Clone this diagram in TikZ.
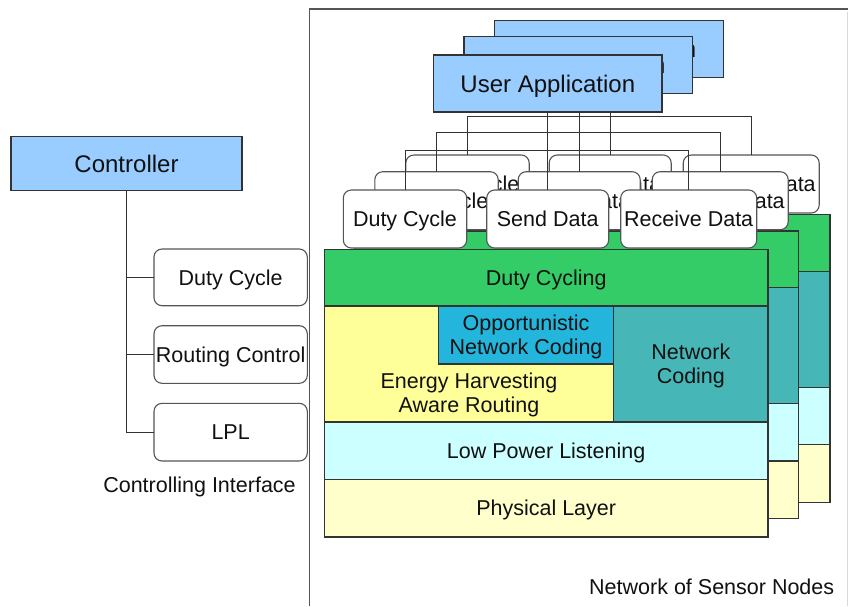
\documentclass[tikz,border=0pt]{standalone}
\usepackage{fontspec}
\setmainfont{Liberation Sans}
\usetikzlibrary{calc}

\definecolor{appblue}{HTML}{99CCFF}
\definecolor{dcgreen}{HTML}{33CC66}
\definecolor{ehyellow}{HTML}{FFFF99}
\definecolor{oncblue}{HTML}{23B5DC}
\definecolor{ncteal}{HTML}{46B6B6}
\definecolor{lplcyan}{HTML}{CCFFFF}
\definecolor{phyyellow}{HTML}{FFFFCC}
\definecolor{ln}{HTML}{333333}
\definecolor{soft}{HTML}{555555}
\definecolor{txt}{HTML}{111111}

\newcommand\fs{\fontsize{21.5}{24}\selectfont}
\newcommand\fl{\fontsize{24}{26}\selectfont}

\tikzset{
  layer/.style={draw=ln, line width=1.1pt, inner sep=0pt, outer sep=0pt,
    anchor=north west, align=center, font=\fs, text=txt},
  cmd/.style={draw=soft, line width=1.1pt, fill=white, rounded corners=8pt,
    inner sep=0pt, outer sep=0pt, anchor=north west, align=center,
    font=\fs, text=txt, text height=15.4pt, text depth=0pt},
  app/.style={draw=ln, line width=1.1pt, fill=appblue, inner sep=0pt,
    outer sep=0pt, anchor=north west, font=\fl, text=txt,
    text height=17.2pt, text depth=0pt},
  onecap/.style={text height=15.4pt, text depth=0pt},
  wire/.style={draw=ln, line width=1pt},
  label/.style={font=\fs, text=txt, inner sep=0pt},
}

% one protocol stack of a sensor node; #3=1 prints the layer names
\newcommand\layerstack[3]{%
  \begin{scope}[shift={#1}]
    \node[layer, onecap, fill=dcgreen, minimum width=443.7pt, minimum height=56.7pt]
      (dc#2) at (324.3,249.3) {\ifnum#3=1 Duty Cycling\fi};
    \node[layer, fill=ehyellow, minimum width=289.4pt, minimum height=116pt]
      (eh#2) at (324.3,306) {};
    \node[layer, fill=oncblue, minimum width=175.4pt, minimum height=58pt]
      (onc#2) at (438.3,306) {};
    \node[layer, fill=ncteal, minimum width=154.3pt, minimum height=116pt]
      (nc#2) at (613.7,306) {};
    \node[layer, onecap, fill=lplcyan, minimum width=443.7pt, minimum height=57.3pt]
      (lpl#2) at (324.3,422) {\ifnum#3=1 Low Power Listening\fi};
    \node[layer, onecap, fill=phyyellow, minimum width=443.7pt, minimum height=57.7pt]
      (phy#2) at (324.3,479.3) {\ifnum#3=1 Physical Layer\fi};
    \ifnum#3=1
      \node[label, align=center, yshift=-2pt] (oncl#2) at (onc#2.center) {Opportunistic\\Network Coding};
      \node[label, align=center, yshift=-2pt] (ncl#2) at (nc#2.center) {Network\\Coding};
      \node[label, align=center, yshift=-2pt] (ehl#2) at (469,393) {Energy Harvesting\\Aware Routing};
    \fi
  \end{scope}}

% the row of commands on top of a stack
\newcommand\cmdrow[2]{%
  \begin{scope}[shift={#1}]
    \node[cmd, minimum width=123.4pt, minimum height=58pt] (d#2) at (343.3,190) {Duty Cycle};
    \node[cmd, minimum width=122pt, minimum height=58pt] (s#2) at (486.7,190) {Send Data};
    \node[cmd, minimum width=136pt, minimum height=58pt] (r#2) at (620.7,190) {Receive Data};
  \end{scope}}

\begin{document}
\begin{tikzpicture}[x=1pt, y=-1pt]
  \useasboundingbox (0,0) rectangle (848,606);
  \fill[white] (0,0) rectangle (848,606);

  % frame of the sensor network
  \draw[soft, line width=1.4pt] (309.3,606) -- (309.3,9) -- (848,9);
  \draw[black!15, line width=0.8pt] (847,12) -- (847,606);

  % stacks, back to front
  \layerstack{(62,-34.5)}{2}{0}
  \cmdrow{(62.5,-35)}{2}
  \layerstack{(30.5,-18.3)}{1}{0}
  \cmdrow{(31.5,-18.3)}{1}
  \layerstack{(0,0)}{0}{1}
  \cmdrow{(0,0)}{0}

  % user applications
  \node[app, minimum width=229pt, minimum height=56.6pt] (ua2) at (494.3,20.7) {User Application};
  \node[app, minimum width=228.3pt, minimum height=57pt] (ua1) at (464,36.7) {User Application};
  \node[app, minimum width=228.3pt, minimum height=57pt] (ua0) at (433.7,55) {User Application};

  % application to command wiring
  \coordinate (h2) at (0,116.3);
  \coordinate (h1) at (0,132.7);
  \coordinate (h0) at (0,150.7);
  \draw[wire] (ua0.south -| s0.north) -- (s0.north);
  \draw[wire] (ua0.south -| s1.north) -- (s1.north);
  \draw[wire] (ua0.south -| s2.north) -- (s2.north);
  \draw[wire] (d2.north) -- (d2.north |- h2) -- (r2.north |- h2) -- (r2.north);
  \draw[wire] (d1.north) -- (d1.north |- h1) -- (r1.north |- h1) -- (r1.north);
  \draw[wire] (d0.north) -- (d0.north |- h0) -- (r0.north |- h0) -- (r0.north);

  % controller side
  \node[app, minimum width=231pt, minimum height=54pt] (ctl) at (11,136.7) {Controller};
  \node[cmd, minimum width=153.3pt, minimum height=56.7pt] (cdc) at (154,249) {Duty Cycle};
  \node[cmd, minimum width=153.3pt, minimum height=57.6pt] (crc) at (154,325.7) {Routing Control};
  \node[cmd, minimum width=153.3pt, minimum height=57.7pt] (clpl) at (154,403.3) {LPL};
  \draw[wire] (ctl.south) -- (ctl.south |- clpl.west) -- (clpl.west);
  \draw[wire] (ctl.south |- cdc.west) -- (cdc.west);
  \draw[wire] (ctl.south |- crc.west) -- (crc.west);

  \node[label, onecap] (ci) at (199.5,485) {Controlling Interface};
  \node[label, onecap] (nsn) at (711.7,587) {Network of Sensor Nodes};
\end{tikzpicture}
\end{document}
